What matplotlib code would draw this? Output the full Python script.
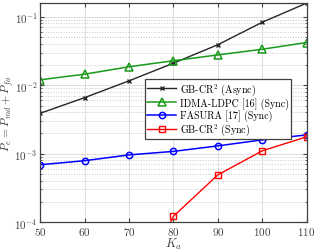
import numpy as np
import matplotlib
import matplotlib.pyplot as plt
from matplotlib.ticker import FixedLocator, LogLocator, NullFormatter

matplotlib.use("Agg")

plt.rcParams["font.family"] = "serif"
plt.rcParams["font.serif"] = ["cmr10"]
plt.rcParams["mathtext.fontset"] = "cm"
plt.rcParams["axes.formatter.use_mathtext"] = True

ka = [50, 60, 70, 80, 90, 100, 110]
async_gb = [0.0039, 0.0066, 0.0116, 0.021, 0.039, 0.083, 0.158]
idma_ldpc = [0.012, 0.0145, 0.0186, 0.0228, 0.0277, 0.0335, 0.042]
fasura = [0.00069, 0.00079, 0.00096, 0.00108, 0.0013, 0.00159, 0.00188]
ka_sync = [70, 80, 90, 100, 110]
sync_gb = [6e-6, 0.000122, 0.00049, 0.0011, 0.00176]

labels = ["GB-CR$^2$ (Async)", "IDMA-LDPC [16] (Sync)",
          "FASURA [17] (Sync)", "GB-CR$^2$ (Sync)"]

fig = plt.figure(figsize=(3.16, 2.53), dpi=100)
ax = fig.add_axes([0.128, 0.118, 0.842, 0.866])

ax.plot(ka, async_gb, color="#262626", marker="x", ms=3.5, lw=1.0,
        label=labels[0])
ax.plot(ka, idma_ldpc, color="#1a9a1a", marker="^", ms=5.5, mfc="none",
        mew=1.1, lw=1.1, label=labels[1])
ax.plot(ka, fasura, color="#0000ff", marker="o", ms=4.5, mfc="none",
        mew=1.1, lw=1.1, label=labels[2])
ax.plot(ka_sync, sync_gb, color="#ff0000", marker="s", ms=4, mfc="none",
        mew=1.0, lw=1.0, label=labels[3])

ax.set_yscale("log")
ax.set_xlim(50, 110)
ax.set_ylim(1e-4, 10 ** -0.8)
ax.xaxis.set_major_locator(FixedLocator(ka))
ax.yaxis.set_major_locator(FixedLocator([1e-4, 1e-3, 1e-2, 1e-1]))
ax.yaxis.set_minor_locator(LogLocator(base=10, subs=np.arange(2, 10)))
ax.yaxis.set_minor_formatter(NullFormatter())

ax.grid(True, which="major", color="#dcdcdc", lw=0.7, ls="-")
ax.grid(True, which="minor", axis="y", color="#c8c8c8", lw=0.7, ls=":")
ax.set_axisbelow(True)

ax.tick_params(which="both", direction="in", top=True, right=True,
               colors="#404040", labelsize=8, length=3, pad=2)
ax.tick_params(which="minor", length=1.5)
for s in ax.spines.values():
    s.set_color("#404040")
    s.set_linewidth(0.9)

ax.set_xlabel("$K_a$", fontsize=9, color="#404040", labelpad=-1)
ax.set_ylabel("$P_e = P_{md} + P_{fa}$", fontsize=8.5, color="#404040",
              labelpad=-1)

leg = ax.legend(loc="upper left", bbox_to_anchor=(0.394, 0.653),
                fontsize=7.2, fancybox=False, edgecolor="#404040",
                framealpha=1, borderpad=0.2, labelspacing=0.03,
                handlelength=2.9, handletextpad=0.4, borderaxespad=0)
leg.get_frame().set_linewidth(0.9)

fig.savefig("out.png", dpi=100)
